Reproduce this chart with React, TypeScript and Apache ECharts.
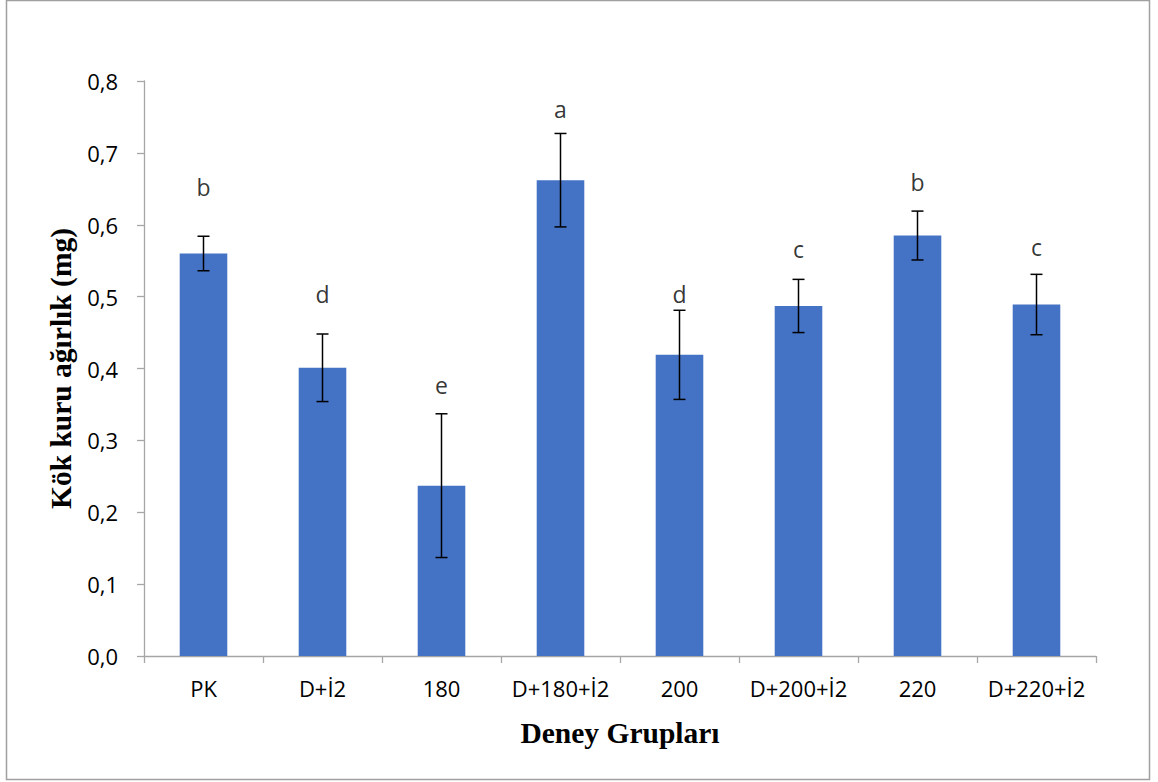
import React, { useEffect, useRef } from "react";
import * as echarts from "echarts";

const categories = ["PK", "D+İ2", "180", "D+180+İ2", "200", "D+200+İ2", "220", "D+220+İ2"];
const means = [0.56, 0.401, 0.237, 0.662, 0.419, 0.487, 0.585, 0.489];
const errors = [0.024, 0.047, 0.1, 0.065, 0.062, 0.037, 0.034, 0.042];
const letters = ["b", "d", "e", "a", "d", "c", "b", "c"];
const letterY = [0.652, 0.503, 0.377, 0.761, 0.503, 0.566, 0.66, 0.569];
const yTicks = { min: 0, max: 0.8, interval: 0.1 };

const SANS = "'Open Sans', 'Noto Sans', sans-serif";
const SERIF = "'Liberation Serif', 'DejaVu Serif', serif";
const AXIS_GRAY = "#a6a6a6";

export default function App() {
  const ref = useRef<HTMLDivElement>(null);
  useEffect(() => {
    if (!ref.current) return;
    const chart = echarts.init(ref.current, null, { renderer: "svg" });
    const errData = means.map((m, i) => [i, m - errors[i], m + errors[i]]);
    const letterData = letterY.map((y, i) => [i, y]);
    chart.setOption({
      animation: false,
      backgroundColor: "#ffffff",
      graphic: [
        {
          type: "rect",
          shape: { x: 6.5, y: 0.5, width: 1143, height: 779 },
          style: { fill: "none", stroke: "#a0a0a0", lineWidth: 1.5 },
          silent: true,
          z: 100,
        },
      ],
      grid: { left: 144, right: 62, top: 81, bottom: 126 },
      xAxis: {
        type: "category",
        data: categories,
        boundaryGap: true,
        name: "Deney Grupları",
        nameLocation: "middle",
        nameGap: 62,
        nameTextStyle: { fontFamily: SERIF, fontWeight: "bold", fontSize: 29.5, color: "#000" },
        axisLine: { lineStyle: { color: AXIS_GRAY, width: 1.3 } },
        axisTick: { show: true, length: 7, lineStyle: { color: AXIS_GRAY, width: 1.3 } },
        axisLabel: { fontFamily: SANS, fontSize: 22, color: "#000", margin: 21, interval: 0 },
        splitLine: { show: false },
      },
      yAxis: {
        type: "value",
        min: yTicks.min,
        max: yTicks.max,
        interval: yTicks.interval,
        name: "Kök kuru ağırlık (mg)",
        nameLocation: "middle",
        nameGap: 67,
        nameTextStyle: { fontFamily: SERIF, fontWeight: "bold", fontSize: 29.5, color: "#000" },
        axisLine: { show: true, lineStyle: { color: AXIS_GRAY, width: 1.3 } },
        axisTick: { show: true, length: 7, lineStyle: { color: AXIS_GRAY, width: 1.3 } },
        axisLabel: {
          fontFamily: SANS,
          fontSize: 22,
          color: "#000",
          margin: 26,
          formatter: (v: number) => v.toFixed(1).replace(".", ","),
        },
        splitLine: { show: false },
      },
      series: [
        {
          type: "bar",
          data: means,
          barWidth: "40%",
          itemStyle: { color: "#4472C4" },
          z: 2,
        },
        {
          type: "custom",
          data: errData,
          z: 5,
          renderItem: (params: any, api: any) => {
            const i = api.value(0);
            const lo = api.coord([i, api.value(1)]);
            const hi = api.coord([i, api.value(2)]);
            const half = 6;
            const style = { stroke: "#000", lineWidth: 1.5 };
            return {
              type: "group",
              children: [
                { type: "line", shape: { x1: hi[0], y1: hi[1], x2: lo[0], y2: lo[1] }, style },
                { type: "line", shape: { x1: hi[0] - half, y1: hi[1], x2: hi[0] + half, y2: hi[1] }, style },
                { type: "line", shape: { x1: lo[0] - half, y1: lo[1], x2: lo[0] + half, y2: lo[1] }, style },
              ],
            };
          },
        },
        {
          type: "scatter",
          data: letterData,
          symbolSize: 0,
          z: 6,
          label: {
            show: true,
            position: "inside",
            fontFamily: SANS,
            fontSize: 23,
            color: "#000",
            formatter: (p: any) => letters[p.dataIndex],
          },
        },
      ],
    });
    return () => chart.dispose();
  }, []);
  return (
    <div
      ref={ref}
      style={{ position: "fixed", left: 0, top: 0, width: 1158, height: 782, background: "#fff" }}
    />
  );
}
